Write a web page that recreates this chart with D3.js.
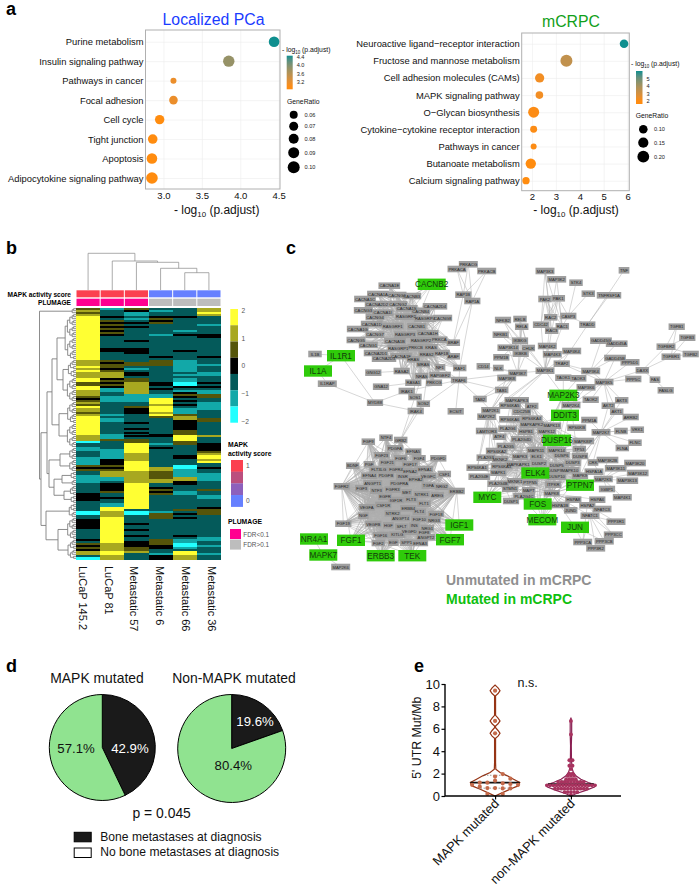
<!DOCTYPE html>
<html>
<head>
  <meta charset="utf-8">
  <script src="https://d3js.org/d3.v7.min.js"></script>
  <style>
    body { margin: 0; background: #fff; }
    svg text { font-family: "Liberation Sans", Arial, sans-serif; }
    .domain { display: none; }
  </style>
</head>
<body>
  <svg id="fig" width="700" height="887"></svg>
  <script>
    // panel a
    const pcaPathways = ["Purine metabolism", "Insulin signaling pathway", "Pathways in cancer", "Focal adhesion", "Cell cycle", "Tight junction", "Apoptosis", "Adipocytokine signaling pathway"];
    const pcaLogP = [4.44, 3.85, 3.13, 3.13, 2.95, 2.86, 2.85, 2.85];
    const pcaRatio = [0.086, 0.094, 0.04, 0.066, 0.074, 0.076, 0.086, 0.096];
    const pcaColorTicks = [4.4, 4.0, 3.6, 3.2];
    const pcaSizeTicks = [0.06, 0.07, 0.08, 0.09, 0.10];

    const crpcPathways = ["Neuroactive ligand\u2212receptor interaction", "Fructose and mannose metabolism", "Cell adhesion molecules (CAMs)", "MAPK signaling pathway", "O\u2212Glycan biosynthesis", "Cytokine\u2212cytokine receptor interaction", "Pathways in cancer", "Butanoate metabolism", "Calcium signaling pathway"];
    const crpcLogP = [5.85, 3.44, 2.32, 2.31, 2.07, 2.07, 2.07, 1.95, 1.75];
    const crpcRatio = [0.10, 0.206, 0.12, 0.07, 0.175, 0.05, 0.02, 0.155, 0.06];
    const crpcColorTicks = [5, 4, 3, 2];
    const crpcSizeTicks = [0.10, 0.15, 0.20];

    // panel b, run lengths per sample, one unit = one gene row
    const samples = ["LuCaP 145.2", "LuCaP 81", "Metastatic 57", "Metastatic 6", "Metastatic 66", "Metastatic 36"];
    const heatRuns = [
      "O1 F1 O1 F1 Y22 F3 Y1 F1 Y1 F3 Y2 O2 Y2 F3 O1 B1 O1 F1 O1 Y1 F2 O1 F1 Y10 F3 C1 K2 T2 K3 T4 O1 B1 O1 K2 T4 K5 B4 K5 C2 K2 B3 B2 K5 B1 K1 O1 B1 O1 B1 F2 K1 C1",
      "T1 K3 B1 K1 O1 B1 O1 B1 O1 B1 O1 B1 K6 B2 K4 O1 B1 O2 B1 O1 F3 B1 O1 B1 O1 B1 T2 K2 T3 K6 T1 K1 T2 K6 T3 O1 K4 T5 B3 O1 B1 O1 F3 T2 K1 B4 O1 K2 B1 K2 T2 Y2 F3 Y13 F4 Y2 F2",
      "O1 B1 T2 K1 T1 K1 B1 K1 B1 K1 K5 B1 K3 B3 K4 O2 K1 T1 K1 B2 K1 O2 F6 T4 K2 O1 B3 K4 B1 K2 B1 K1 B1 K1 B1 K1 O2 Y5 F4 Y5 F6 Y13 K1 C2 K2 K2 B1 K2 B1 K2 B1 K2 B3 O2 F1 K3",
      "K1 T1 K1 K1 B1 O1 B1 O1 K5 T1 K10 B1 K1 O3 K8 B2 K1 B1 K1 K1 T2 Y3 F1 Y3 F1 Y1 O1 K8 B2 K3 T1 K1 B1 K1 K8 F2 O4 F2 K2 B1 O1 B1 O1 K8 T1 O3 K10 O3 B2 K2 T1 B2",
      "K4 B1 K6 T1 K1 B1 K7 B1 K4 T6 K1 T1 K1 T2 C2 B1 K1 T1 B1 O1 B1 K1 B1 K1 B1 K1 T3 O1 F2 B5 O3 Y3 O2 K5 B2 K3 C2 T4 F2 B2 K3 T2 K7 O1 K1 B1 K1 B1 K8 B1 K1 T2 C2 T1 K1 Y2 F2",
      "F2 Y1 F1 K4 T1 K4 B2 K9 B1 K3 T1 K3 T2 K3 B1 K1 B1 K1 T2 O2 K2 T4 K4 O2 K7 F1 K3 B4 O1 F1 Y2 F1 Y1 K2 B1 K2 T1 T3 K4 O1 K2 T2 K1 K3 B1 O3 K11 T2 K2 T1 K3 T1 K2"
    ];
    const heatLevels = { C: -2, T: -1.33, K: -0.67, B: 0, O: 0.67, F: 1.33, Y: 2 };
    const heatScaleColors = ["#ffff33", "#a8a820", "#55550a", "#000000", "#045a5a", "#12a8a8", "#22ffff"];
    const heatScaleTicks = [2, 1, 0, -1, -2];
    const mapkGroup = ["high", "high", "high", "low", "low", "low"];
    const plumageGroup = ["sig", "sig", "sig", "ns", "ns", "ns"];
    // [merge height, left, right]
    const colTree = [36.7, 0, [29, 1, [27.7, 2, [21.7, 3, [17.3, 4, 5]]]]];
    const rowTree = [36.5, 3, [35,
      [29, [24, [19, 23, [13, 9, 12]], [17, 11, 12]], [27, [16, 6, 6], [22, [14, 4, 3], [12, 5, 4]]]],
      [30, 7, [18, 11, 10]]]];
    const mapkLegendColors = ["#fb4050", "#bb4f7e", "#8d60bc", "#6680ff"];
    const mapkLegendTicks = [1, 0];
    const plumageLabels = ["FDR<0.1", "FDR>0.1"];

    // panel c, layout: [name, x, y]
    const mutatedNodes = [["CACNB2",431.7,284.3],["IL1R1",341,355.7],["IL1A",318,371],["MAP2K3",563.3,395.3],["DDIT3",565,415.3],["DUSP16",557,440.3],["ELK4",535.3,473],["PTPN7",580,485.2],["MYC",487.3,497.3],["FOS",537.7,504],["MECOM",542.3,519.7],["JUN",575,527.3],["IGF1",459.3,525],["FGF7",450,539.7],["FGF1",351,540.3],["ERBB3",380.7,555.7],["TEK",412.3,555.7],["MAPK7",323.3,555],["NR4A1",314,539]];
    const calciumNodes = [["PRKACG",468.3,264.3],["PRKACA",457,269],["PRKACB",486.7,271],["RAP1B",463.3,294.7],["RAP1A",472.3,301],["CACNA1E",389.3,285.7],["CACNA1A",378,294],["CACNG6",397,295],["CACNB3",411.7,296],["CACNA1C",365,299],["CACNA2D2",377,304],["CACNG2",398,304],["CACNA2D4",435,306.3],["CACNG3",363.3,310.3],["CACNA1S",406.7,308.3],["CACNA1I",382.7,312.7],["CACNB4",420.7,311],["CACNG4",375,317],["RASGRF2",406,316.7],["RASGRP4",425,318.7],["CACNG8",442.7,318],["CACNA1D",371.7,324],["RASGRF1",392.7,326],["CACNB1",416.7,326.3],["CACNA1G",357.7,329],["CACNA1H",427.7,333.3],["CACNG7",375,334.7],["RASGRP3",405,334.7],["CACNG5",356,340],["CACNA1B",395,341],["RASGRP2",421,340.3],["PRKCA",439.3,339.7],["BRAF",453.3,342.7],["CACNG1",368.3,345],["RASGRP1",398.3,348.3],["PRKCB",415.7,347.3],["KRAS",431,347.3],["CACNA2D1",376,353],["RAF1B",441.7,353],["RRAS2",426.7,354],["ARAF",453.3,356.3],["CACNA2D3",384,358.7],["CACNA1F",401,356],["HRAS",413.3,359.3],["MRAS",423.3,364],["NF1",440,367.3],["RAF1",459.7,368],["GNG12",373.3,372.7],["RASA2",401.7,371],["NRAS",421.7,376],["RAPGEF2",440,375],["RASA1",413.3,382.7],["PRKCG",434,382.7],["TRAF6",459,380],["GNA12",381,386.7],["IRAK1",406.7,391],["SOS1",415,397],["SOS2",423.3,403.7],["MYD88",375,402.7],["IL1B",315,354],["IL1RAP",327.3,383.7],["IRAK4",415.7,411],["ECSIT",455.7,411.3]];
    const growthNodes = [["NTF4",386,437.7],["GRB2",400.7,440],["FGF9",368.3,441.7],["PDGFA",395,448.3],["EFNA5",413.3,451.7],["FGF23",381.7,455.3],["FGF6",400.7,458.3],["FGF4",419,458.3],["PDGFD",438.3,458.3],["FGF21",387.3,462.7],["FGF17",410,464.3],["PGF",369,464.3],["BDNF",352.7,465.7],["FLT3LG",378.7,469.7],["FGFR4",396,469.7],["EFNA1",425,469],["EFNA2",410,471.3],["CSF1",444.3,474],["EFNA4",369.3,475.7],["PDGFB",386,475],["INSR",402.7,476.7],["VEGFC",428.3,476],["ANGPT1",372.7,483.3],["EPHA2",415.7,479],["PDGFRA",399.3,483.3],["TGFA",428.3,485.7],["NRG2",441.7,486.7],["FGFR2",341.7,486.3],["ERBB2",456.7,491],["FGF3",361.7,488.3],["NTF3",376.7,490.7],["FGFR3",392.7,489.7],["MET",406.7,492.3],["NTRK1",421.7,494.3],["AREG",437.3,495],["EGFR",385,496.7],["IGF1R",396,500],["FLT3",411,499.3],["FLT1",424,503.7],["VEGFA",366.7,507.3],["CSF1R",383.3,505],["ERBB4",408.3,508.3],["FLT4",419.3,511.7],["FGF18",436,514],["NTRK2",392.7,513.3],["NGF",363.3,515.7],["ANGPT4",400.7,518],["FGF10",419.3,519],["NRG3",434,520],["FGF19",343.3,523.7],["VEGFB",373.3,524],["HGF",388.3,525.3],["SFLT",401.7,526.7],["INS",414.3,525.7],["NRG1",427.3,528],["VEGFD",409.3,531.7],["FGF8",424,532],["FGF16",380.7,535],["KITLG",397.3,534.7],["ANGPT2",426,537],["FGF2",378.3,543],["EGF",393.3,542.7],["SPP1",406.7,542.7],["EFNA3",420,543]];
    const mapkNodes = [["MAP2K6",340.7,567],["MAP3K3",545,271],["MAP3K2",556.7,279.3],["STK4",576,282.7],["TNF",624,270.3],["STK3",588.3,293.7],["TNFRSF1A",609,295.3],["PAK1",558.3,298.3],["PAK2",545,299],["RAC2",550.7,317.3],["CASP3",568.3,316],["RAC1",562.3,326.3],["TRADD",587.3,324.7],["CDC42",541,324.7],["RAC3",551.7,330.7],["TGFB1",676.7,326.7],["TGFB3",687.3,337.7],["TGFBR2",666,346.7],["TGFBR1",671,356.7],["TGFB2",690.7,354],["GADD45G",601,340.7],["GADD45A",616.7,343.7],["GADD45B",615,358],["PPP5D1",630,362.3],["MAP3K4",590.7,371],["DAXX",642.3,370.3],["PPP5C",633.3,379],["FAS",655,379.7],["FASLG",665.7,390.3],["MAP3K5",604,382],["MAP3K6",586,387.3],["TAOK2",590.7,399.7],["AKT3",621.7,400.3],["AKT2",608.3,405.7],["MAP2K4",571,405],["AKT1",616.7,411.7],["ARRB2",630.7,417],["NFKB2",503,320],["RELB",520,319],["RELA",521.7,326.7],["NFKB1",500.7,334.7],["IKBKG",520,340.7],["MAP4K2",547.3,346],["MAP3K14",508.3,347.7],["CHUK",528.3,348],["IKBKB",520.7,353.7],["MAP4K3",552.3,354.3],["MAP4K4",571.7,351],["PPM1B",501.3,357.3],["TRAF2",561.7,363.7],["CD14",483.3,366.3],["NLK",498.3,368],["MAP3K1",545,370.7],["MAP3K7",517.7,373],["MAP3K8",506.7,378],["TAOK1",563.3,377.7],["TAOK3",578.3,378.3],["TAB1",501.7,390],["TAB2",480,399],["MAPKAPK3",516.7,400.3],["ATF2",531.7,406],["RPS6KA5",510,405.7],["MAP2K1",490.7,410.3],["CDC25B",521.7,411.7],["MAP2K2",486.7,416.7],["RPS6KA6",510,419.3],["RPS6KA4",531.7,418.7],["PPM1A",589.3,420],["MAPKAPK2",531.7,424.7],["MAPK13",551.7,425.7],["LAMTOR3",486.7,431],["PLA2G6",507.7,428.7],["HSPB1",526,431.7],["MAPK12",546.7,431],["RPS6KB",576.7,427.7],["ATF4",499.3,436.7],["PLA2G4D",521.7,439.3],["PLA2G5",506,446],["MAPK11",536,450],["MAPK14",556.7,450],["TP53",579.3,449],["RPS6KA2",496.7,451],["PLA2G3",486,457.7],["MKNK2",500,459],["MAPK3",520,456.7],["ELK1",536.7,456.7],["DUSP6",561.7,455],["DUSP8",580,456],["RPS6KA1",477.3,467.7],["RPS6KA3",501.7,466],["MAPKAPK1",518.3,464],["DUSP2",539,463.3],["DUSP5",556.7,465.7],["DUSP3",572.7,462.7],["PLA2G4E",479.3,476.7],["MAPK1",498.3,472.7],["DUSP9",555,470.7],["MAPK10",570,470],["DUSP10",556.7,476.7],["MAPK9",580,475.7],["PLA2G4B",498.3,483.7],["MKNK1",515,481.3],["PTPN5",530,482.3],["ITPKR",553.3,484.7],["STMN1",510,488.7],["MAPT",528.7,490.3],["MAPK8",551.7,493.3],["PLA2G4C",524,496],["DUSP1",511,501],["MAP2K7",601,432.3],["FLNB",621,431],["VRK1",637.3,429.7],["FLNC",635,442.7],["FLNA",622.3,448],["MAPK8IP",583.3,441],["CRK",593,462.5],["MAP3K2B",607.5,460],["MAP3K20",635,463],["MAP3K11",615.7,468.3],["MAP3K12",637.7,473],["HSPA1A",594,471.7],["MAP2K5",603.3,479],["MAP3K13",627.3,480.7],["MAP4K1",622.3,497.3],["IGBP1",607,489],["HSPA8",573.3,499.7],["HSPA6",597.3,499.7],["HSPA1B",560,505],["HSPA2",587.3,505.3],["NFATC3",602,509],["JUND",570.7,510.3],["NFATC1",590,515.7],["PPP3R1",616,521.7],["PPP3CC",613.3,534.7],["PPP3CB",604.3,541.3],["PPP3CA",582.7,542],["PPP3R2",595.7,548.3]];
    // [hub, neighbours]
    const edgeStars = [
      ["RAP1B", ["PRKACG","PRKACA","PRKACB","BRAF"]], ["RAP1A", ["PRKACG","PRKACA","PRKACB","BRAF","RAF1"]],
      ["CACNB2", ["CACNB3","CACNB4","RASGRF2","CACNA1S","CACNG2"]],
      ["MYD88", ["IL1R1","IL1RAP","IRAK1","IRAK4"]], ["IL1A", ["IL1R1","IL1RAP"]], ["IL1R1", ["IL1B"]],
      ["RASA2", ["GNG12","NRAS","HRAS"]], ["RASA1", ["GNA12","NRAS"]],
      ["TRAF6", ["IRAK1","IRAK4","ECSIT","TAB1","TAB2","RAF1","MAP3K7","NF1"]],
      ["GRB2", ["SOS1","SOS2","IRAK4"]], ["SOS1", ["NRAS","HRAS"]], ["SOS2", ["KRAS"]],
      ["RAC2", ["MAP3K3","MAP3K2","PAK1","PAK2","CASP3","MAP3K1"]], ["RAC1", ["MAP3K3","MAP3K2","PAK1","PAK2","CASP3","MAP3K1"]],
      ["RAC3", ["PAK1","PAK2","MAP3K3","MAP3K1"]], ["CDC42", ["PAK1","PAK2","MAP3K3","MAP3K1"]],
      ["CASP3", ["STK4","STK3","TRADD","PAK1"]], ["TRADD", ["TNFRSF1A"]], ["TRAF2", ["TNF","MAP3K1","MAP3K5"]],
      ["TGFBR2", ["TGFB1","TGFB2","TGFB3","DAXX"]], ["TGFBR1", ["TGFB1","TGFB2","TGFB3","DAXX"]],
      ["DAXX", ["FAS","MAP3K5"]], ["FAS", ["FASLG"]],
      ["MAP3K4", ["GADD45G","GADD45A","GADD45B","MAP3K5","TRAF2"]],
      ["MAP3K5", ["PPP5C","PPP5D1","GADD45B","MAP3K6","TAOK2","AKT1","AKT2","AKT3","MAP2K4","MAP2K3"]],
      ["MAP3K1", ["MAP4K2","MAP4K3","MAP4K4","IKBKB","CHUK","IKBKG","MAP2K1","MAP2K2","MAP2K3","MAP3K7","RPS6KA5"]],
      ["MAP3K7", ["NLK","TAB1","TAB2","CD14","IKBKB","CHUK","IKBKG","MAP3K14","MAP2K1","MAP2K2","MAP3K8"]],
      ["IKBKB", ["NFKB1","NFKB2","RELA","RELB","PPM1B","MAP3K14"]], ["CHUK", ["NFKB1","NFKB2","RELA","RELB"]], ["IKBKG", ["NFKB1","NFKB2","RELA","RELB","PPM1B"]],
      ["TAB1", ["MAP2K1","TAB2","MAP3K8"]], ["MAP2K3", ["TAOK1","TAOK3","MAPK14","MAPK11","MAPK12","MAPK13"]],
      ["MAP2K4", ["TAOK2","MAP3K6","MAPK8","MAPK9","MAP2K3"]], ["DDIT3", ["MAPK14","ATF4"]],
      ["MAP2K7", ["AKT1","AKT2","AKT3","ARRB2","PPM1A","FLNB","VRK1","FLNC","FLNA","MAPK8","MAPK9","MAPK10","CRK"]],
      ["MAP2K5", ["MAP3K2B","MAP3K20","MAP3K11","MAP3K12","MAP3K13","MAP4K1","IGBP1","CRK"]],
      ["MAPK8", ["JUN","JUND","HSPA1A","HSPA8","HSPA6","HSPA1B","HSPA2","NFATC3","NFATC1","MAP2K5","FOS"]],
      ["NFATC1", ["PPP3R1","PPP3CC","PPP3CB","PPP3CA","PPP3R2"]], ["JUN", ["PPP3CA","PPP3CB"]], ["HSPA2", ["PPP3CC","PPP3R1","PPP3CA"]],
      ["MAP2K1", ["MAPK1","MAPK3","MYC","RPS6KA1","TAB2","LAMTOR3","ATF4"]], ["MAP2K2", ["MAPK1","MAPK3","LAMTOR3","RPS6KA1"]],
      ["NR4A1", ["MAPK7"]], ["MAP2K6", ["MAPK7"]], ["MAPK1", ["MYC","PLA2G4E","RPS6KA1","PLA2G3","PLA2G4C","PLA2G4B"]], ["MAPK3", ["MYC","PLA2G5","PLA2G4D","PLA2G6"]]
    ];
    const calciumHubs = ["RASGRF2", "RASGRP4", "RASGRF1", "RASGRP3", "RASGRP2", "RASGRP1", "KRAS", "HRAS", "CACNB1", "CACNA1B", "CACNA1S", "PRKCB"];
    const rasMembers = ["KRAS","HRAS","NRAS","MRAS","RRAS2","RAF1","RAF1B","BRAF","ARAF","NF1","RAPGEF2","PRKCA","PRKCB","PRKCG","RASA1","RASA2"];
    const growthHubs = ["FGFR2", "FGFR3", "FGFR4", "ERBB2", "ERBB4", "INSR", "MET", "FLT1", "FLT4", "NTRK1", "PDGFRA", "EGFR", "IGF1R", "CSF1R", "NTRK2", "FLT3", "VEGFA", "FGF10", "HGF", "ANGPT4", "KITLG", "EGF", "FGF2", "NGF"];
    const growthMutated = ["IGF1", "FGF7", "FGF1", "ERBB3", "TEK"];
    const mapkHubs = ["MAPK1", "MAPK3", "MAPK8", "MAPK9", "MAPK14", "MAPK10", "MAPK11", "MAPK13"];
    const mapkHubMembers = ["DUSP16","ELK4","PTPN7","FOS","MECOM","ELK1","DUSP2","DUSP3","DUSP5","DUSP6","DUSP8","DUSP9","DUSP10","DUSP1","RPS6KA1","RPS6KA2","RPS6KA3","RPS6KA4","RPS6KA5","RPS6KA6","MKNK1","MKNK2","PTPN5","ITPKR","STMN1","MAPT","MAPKAPK1","MAPKAPK2","MAPKAPK3","TP53","MAPK12","HSPB1","CDC25B","ATF2","PLA2G4D","PLA2G5","PLA2G6","MAPK8IP","MYC"];
    const networkLegend = ["Unmutated in mCRPC", "Mutated in mCRPC"];

    // panel d
    const pieCategories = ["Bone metastases at diagnosis", "No bone metastases at diagnosis"];
    const pieMapk = [42.9, 57.1];
    const pieNonMapk = [19.6, 80.4];

    // panel e
    const violinMapkY = [0, 0.3, 0.6, 0.9, 1.2, 1.5, 1.8, 2.1, 2.4, 3, 4, 5, 5.15, 5.35, 5.6, 5.85, 6.1, 6.25, 6.45, 6.7, 6.95, 7.2, 8, 8.95, 9.15, 9.4, 9.65, 9.9];
    const violinMapkDensity = [0, 0.3, 0.6, 0.93, 1, 0.75, 0.5, 0.2, 0.03, 0.02, 0.02, 0.02, 0.02, 0.12, 0.2, 0.12, 0.02, 0.02, 0.12, 0.2, 0.12, 0.02, 0.02, 0.02, 0.12, 0.2, 0.12, 0];
    const violinOtherY = [0, 0.2, 0.5, 0.8, 1, 1.2, 1.5, 1.8, 2.1, 2.5, 3, 3.5, 4.5, 5.5, 6.7, 7];
    const violinOtherDensity = [0, 0.2, 0.6, 0.95, 1, 0.7, 0.4, 0.2, 0.1, 0.04, 0.03, 0.02, 0.015, 0.03, 0.03, 0];
    // [swarm slot, value]
    const mapkPoints = [[1,1.96],[0,1.73],[0,1.37],[-1,1.19],[-2,1.19],[2,1.55],[1,1.13],[2,1.07],[3,1],[-3,1],[-2,0.83],[0,0.71],[-1,0.71],[1,0.68],[2,0.68],[-1,0.18],[1,0.18],[0,5.6],[0,6.7],[0,9.4]];
    // [value, patients]
    const otherPoints = [[0.1,1],[0.35,5],[0.65,11],[0.95,16],[1.25,9],[1.5,4],[1.8,3],[2,2],[2.4,1],[2.7,2],[3.2,2],[5.5,1],[6.7,1]];
    const groups = ["MAPK mutated", "non-MAPK mutated"];
    const mapkStats = [0.7, 1.2, 1.85];
    const otherStats = [0.65, 1.05, 1.4];

    const svg = d3.select("#fig");

    function panelLetter(t, x, y) {
      svg.append("text").text(t).attr("x", x).attr("y", y)
        .style("font-size", "18px").style("font-weight", "bold").style("fill", "#000");
    }
    panelLetter("a", 6, 15);
    panelLetter("b", 6, 254);
    panelLetter("c", 286, 254);
    panelLetter("d", 6, 672);
    panelLetter("e", 414, 672);

    function logLabel(g, x, y, size, anchor) {
      const t = g.append("text").attr("x", x).attr("y", y).attr("text-anchor", anchor)
        .style("font-size", size + "px").style("fill", "#111");
      t.append("tspan").text("- log");
      t.append("tspan").text("10").attr("dy", size * 0.28).style("font-size", (size * 0.66) + "px");
      t.append("tspan").text(" (p.adjust)").attr("dy", -size * 0.28);
    }

    let gradId = 0;
    function dotPlot(o) {
      const g = svg.append("g");
      const x = d3.scaleLinear().domain(o.xDomain).range(o.xRange);
      const y = d3.scalePoint().domain(o.names).range(o.yRange);
      const r = d3.scaleLinear().domain(o.rDomain).range(o.rRange);
      const color = d3.scaleLinear().domain(o.colorDomain).range(["#ff8c0f", "#0f8f8f"])
        .interpolate(d3.interpolateLab).clamp(true);
      const top = o.top, bottom = o.bottom;

      g.append("g").attr("transform", "translate(0," + bottom + ")")
        .call(d3.axisBottom(x).ticks(o.xTicks).tickSize(-(bottom - top)).tickFormat(""))
        .call(s => s.selectAll("line").attr("stroke", "#ececec").attr("stroke-width", 0.6));
      g.append("g").attr("transform", "translate(" + o.xRange[0] + ",0)")
        .call(d3.axisLeft(y).tickSize(-(o.xRange[1] - o.xRange[0])).tickFormat(""))
        .call(s => s.selectAll("line").attr("stroke", "#ececec").attr("stroke-width", 0.6));
      g.append("rect").attr("x", o.xRange[0]).attr("y", top)
        .attr("width", o.xRange[1] - o.xRange[0]).attr("height", bottom - top)
        .attr("fill", "none").attr("stroke", "#b0b0b0").attr("stroke-width", 1);

      g.append("g").attr("transform", "translate(0," + bottom + ")")
        .call(d3.axisBottom(x).ticks(o.xTicks).tickSize(0).tickPadding(3).tickFormat(o.fmt))
        .call(s => s.selectAll("text").style("font-size", "9.5px").style("fill", "#111"));
      g.append("g").attr("transform", "translate(" + o.xRange[0] + ",0)")
        .call(d3.axisLeft(y).tickSize(0).tickPadding(2))
        .call(s => s.selectAll("text").style("font-size", "9.4px").style("fill", "#111"));

      g.selectAll("circle.dot").data(o.names).join("circle").attr("class", "dot")
        .attr("cx", (d, i) => x(o.logP[i]))
        .attr("cy", d => y(d))
        .attr("r", (d, i) => r(o.ratio[i]))
        .attr("fill", (d, i) => color(o.logP[i]));

      g.append("text").text(o.title).attr("x", o.titleX).attr("y", o.titleY).attr("text-anchor", "middle")
        .style("font-size", "15.8px").style("fill", o.titleColor);
      logLabel(g, o.axisTitleX, 214, 12, "middle");

      // colour legend
      logLabel(g, o.legendX, o.legendTitleY, 6.8, "start");
      const barY = d3.scaleLinear().domain(o.barTickDomain).range(o.barTickRange);
      const id = "grad" + (gradId++);
      const grad = svg.append("defs").append("linearGradient").attr("id", id)
        .attr("x1", 0).attr("x2", 0).attr("y1", 1).attr("y2", 0);
      d3.range(0, 1.01, 0.1).forEach(t => {
        const v = barY.invert(o.barExtent[0] + t * (o.barExtent[1] - o.barExtent[0]));
        grad.append("stop").attr("offset", t).attr("stop-color", color(v));
      });
      g.append("rect").attr("x", o.barX).attr("width", o.barW)
        .attr("y", o.barExtent[1]).attr("height", o.barExtent[0] - o.barExtent[1]).attr("fill", "url(#" + id + ")");
      g.selectAll("text.ctick").data(o.colorTicks).join("text").attr("class", "ctick")
        .text(o.fmtLegend).attr("x", o.barX + o.barW + 4).attr("y", d => barY(d) + 2)
        .style("font-size", "5.6px").style("fill", "#222");

      // size legend
      g.append("text").text("GeneRatio").attr("x", o.sizeTitleX).attr("y", o.sizeTitleY)
        .style("font-size", "6.8px").style("fill", "#111");
      g.selectAll("circle.size").data(o.sizeTicks).join("circle").attr("class", "size")
        .attr("cx", o.sizeCx).attr("cy", (d, i) => o.sizeCy[i]).attr("r", d => r(d)).attr("fill", "#000");
      g.selectAll("text.stick").data(o.sizeTicks).join("text").attr("class", "stick")
        .text(d3.format(".2f")).attr("x", o.sizeLabelX).attr("y", (d, i) => o.sizeCy[i] + 2)
        .style("font-size", "5.6px").style("fill", "#222");
    }

    dotPlot({
      names: pcaPathways, logP: pcaLogP, ratio: pcaRatio, title: "Localized PCa", titleX: 213.5, titleY: 25, titleColor: "#1a3cff",
      xDomain: [2.766, 4.517], xRange: [145.5, 280], yRange: [41.7, 178], top: 30, bottom: 189, xTicks: 4, fmt: d3.format(".1f"),
      rDomain: [0.04, 0.10], rRange: [3, 6], colorDomain: [2.95, 4.44], axisTitleX: 216.7,
      legendX: 282, legendTitleY: 52, barX: 286.7, barW: 6, barTickDomain: [3.2, 4.4], barTickRange: [81.7, 57.3], barExtent: [89.3, 55.7],
      colorTicks: pcaColorTicks, fmtLegend: d3.format(".1f"), sizeTitleX: 287, sizeTitleY: 104, sizeTicks: pcaSizeTicks,
      sizeCx: 293.7, sizeCy: [114.7, 126.3, 138.7, 152.7, 167.3], sizeLabelX: 304.5
    });
    dotPlot({
      names: crpcPathways, logP: crpcLogP, ratio: crpcRatio, title: "mCRPC", titleX: 571, titleY: 27, titleColor: "#11a01a",
      xDomain: [1.57, 6.07], xRange: [521.7, 629.3], yRange: [43.7, 180.7], top: 33, bottom: 190.7, xTicks: 5, fmt: d3.format("d"),
      rDomain: [0.02, 0.206], rRange: [3, 6], colorDomain: [2.0, 5.85], axisTitleX: 576,
      legendX: 631, legendTitleY: 65.7, barX: 636, barW: 6.5, barTickDomain: [2, 5], barTickRange: [101.3, 78.7], barExtent: [104, 71],
      colorTicks: crpcColorTicks, fmtLegend: d3.format("d"), sizeTitleX: 635.7, sizeTitleY: 118, sizeTicks: crpcSizeTicks,
      sizeCx: 643.3, sizeCy: [129.3, 142.7, 156.7], sizeLabelX: 654
    });

    // heatmap
    const heatG = svg.append("g");
    const heatMatrix = heatRuns.map(s => s.split(" ").flatMap(run =>
      d3.range(+run.slice(1)).map(() => heatLevels[run[0]])));
    const nRows = 126;
    const colX = d3.scaleBand().domain(samples).range([76, 221]);
    const rowY = d3.scaleBand().domain(d3.range(nRows)).range([307.7, 559.3]);
    const heatColor = d3.scaleOrdinal().domain([2, 1.33, 0.67, 0, -0.67, -1.33, -2]).range(heatScaleColors);

    samples.forEach((s, c) => {
      heatG.selectAll("rect.c" + c).data(heatMatrix[c].slice(0, nRows)).join("rect").attr("class", "c" + c)
        .attr("x", colX(s)).attr("width", colX.bandwidth() + 0.3)
        .attr("y", (d, i) => rowY(i)).attr("height", rowY.bandwidth() + 0.5)
        .attr("fill", d => heatColor(d))
        .attr("shape-rendering", "crispEdges");
    });
    const mapkColor = d3.scaleOrdinal().domain(["high", "low"]).range(["#fb4050", "#6680ff"]);
    const plumageColor = d3.scaleOrdinal().domain(["sig", "ns"]).range(["#ff0090", "#bdbdbd"]);
    heatG.selectAll("rect.mapk").data(mapkGroup).join("rect").attr("class", "mapk")
      .attr("x", (d, i) => colX(samples[i]) + 0.5).attr("width", colX.bandwidth() - 1)
      .attr("y", 290.3).attr("height", 7).attr("fill", d => mapkColor(d));
    heatG.selectAll("rect.plum").data(plumageGroup).join("rect").attr("class", "plum")
      .attr("x", (d, i) => colX(samples[i]) + 0.5).attr("width", colX.bandwidth() - 1)
      .attr("y", 298.7).attr("height", 7.3).attr("fill", d => plumageColor(d));
    heatG.append("text").text("MAPK activity score").attr("x", 71).attr("y", 297).attr("text-anchor", "end")
      .style("font-size", "6.6px").style("font-weight", "bold");
    heatG.append("text").text("PLUMAGE").attr("x", 71).attr("y", 305).attr("text-anchor", "end")
      .style("font-size", "6.6px").style("font-weight", "bold");

    // dendrograms, pt maps (leaf position, merge height) to screen
    function drawTree(root, leafPos, expandLeaves, pt, stroke, width) {
      let nextRow = 0;
      const segs = [];
      function walk(n) {
        if (Array.isArray(n)) {
          const a = walk(n[1]), b = walk(n[2]);
          segs.push([a.h, a.pos, n[0], b.pos, b.h]);
          return { pos: (a.pos + b.pos) / 2, h: n[0] };
        }
        if (!expandLeaves) return { pos: leafPos(n), h: 0 };
        if (n === 1) return { pos: leafPos(nextRow++), h: 0 };
        const half = Math.ceil(n / 2);
        return walk([2.4 * Math.log2(n), half, n - half]);
      }
      walk(root);
      heatG.append("g").selectAll("path").data(segs).join("path")
        .attr("d", s => d3.line()([pt(s[1], s[0]), pt(s[1], s[2]), pt(s[3], s[2]), pt(s[3], s[4])]))
        .attr("fill", "none").attr("stroke", stroke).attr("stroke-width", width);
    }
    const colH = d3.scaleLinear().domain([0, 37]).range([290, 253]);
    const rowH = d3.scaleLinear().domain([0, 37]).range([76, 39]);
    drawTree(colTree, i => colX(samples[i]) + colX.bandwidth() / 2, false, (p, h) => [p, colH(h)], "#888", 0.7);
    drawTree(rowTree, i => rowY(i) + rowY.bandwidth() / 2, true, (p, h) => [rowH(h), p], "#808080", 0.9);

    const sampleLabelX = d3.scalePoint().domain(samples).range([82.7, 212]);
    heatG.selectAll("text.sample").data(samples).join("text").attr("class", "sample")
      .text(d => d)
      .attr("transform", d => "translate(" + (sampleLabelX(d) - 4) + ",566) rotate(90)")
      .style("font-size", "11px").style("fill", "#111");

    // heat colour key
    const keyBand = d3.scaleBand().domain(heatScaleColors).range([309, 422.7]);
    heatG.selectAll("rect.key").data(heatScaleColors).join("rect").attr("class", "key")
      .attr("x", 230.3).attr("width", 7.7).attr("y", d => keyBand(d)).attr("height", keyBand.bandwidth())
      .attr("fill", d => d);
    const keyY = d3.scaleLinear().domain([2, -2]).range([310.7, 421.6]);
    heatG.selectAll("text.keyt").data(heatScaleTicks).join("text").attr("class", "keyt")
      .text(d => d < 0 ? "\u2212" + (-d) : d)
      .attr("x", 241.5).attr("y", d => keyY(d) + 2.3)
      .style("font-size", "6.6px").style("fill", "#555");

    heatG.append("text").text("MAPK").attr("x", 228).attr("y", 447)
      .style("font-size", "6.8px").style("font-weight", "bold");
    heatG.append("text").text("activity score").attr("x", 228).attr("y", 456)
      .style("font-size", "6.8px").style("font-weight", "bold");
    const mapkBand = d3.scaleBand().domain(mapkLegendColors).range([460, 506.7]);
    heatG.selectAll("rect.mkey").data(mapkLegendColors).join("rect").attr("class", "mkey")
      .attr("x", 231).attr("width", 12).attr("y", d => mapkBand(d)).attr("height", mapkBand.bandwidth() + 0.2)
      .attr("fill", d => d);
    const mapkKeyY = d3.scaleLinear().domain([1, 0]).range([466, 501]);
    heatG.selectAll("text.mkeyt").data(mapkLegendTicks).join("text").attr("class", "mkeyt")
      .text(d => d).attr("x", 246).attr("y", d => mapkKeyY(d) + 2.3)
      .style("font-size", "6.6px").style("fill", "#555");
    heatG.append("text").text("PLUMAGE").attr("x", 228).attr("y", 524)
      .style("font-size", "6.8px").style("font-weight", "bold");
    const plumageBand = d3.scaleBand().domain(plumageLabels).range([529, 549.6]).paddingInner(0.05);
    heatG.selectAll("rect.pkey").data(plumageLabels).join("rect").attr("class", "pkey")
      .attr("x", 230).attr("width", 11).attr("y", d => plumageBand(d)).attr("height", plumageBand.bandwidth())
      .attr("fill", (d, i) => plumageColor(i ? "ns" : "sig"));
    heatG.selectAll("text.pkeyt").data(plumageLabels).join("text").attr("class", "pkeyt")
      .text(d => d).attr("x", 243.3).attr("y", d => plumageBand(d) + 7.5)
      .style("font-size", "6.4px").style("fill", "#555");

    // network
    const netG = svg.append("g");
    const netX = d3.scaleLinear().domain([300, 700]).range([300, 700]);
    const netY = d3.scaleLinear().domain([260, 570]).range([260, 570]);
    const greyNodes = [...calciumNodes, ...growthNodes, ...mapkNodes];
    const nodePos = new Map([...greyNodes, ...mutatedNodes].map(n => [n[0], n]));
    const edges = [];
    edgeStars.forEach(s => s[1].forEach(t => edges.push([s[0], t])));
    const calciumMembers = calciumNodes.map(n => n[0]).filter(n => n.startsWith("CACN"));
    calciumHubs.forEach(h => [...calciumMembers, ...rasMembers].forEach(t => { if (h !== t) edges.push([h, t]); }));
    const growthMembers = [...growthNodes.map(n => n[0]), ...growthMutated];
    growthHubs.forEach(h => growthMembers.forEach(t => { if (h !== t) edges.push([h, t]); }));
    mapkHubs.forEach(h => mapkHubMembers.forEach(t => { if (h !== t) edges.push([h, t]); }));

    netG.append("g").selectAll("line").data(edges).join("line")
      .attr("x1", d => netX(nodePos.get(d[0])[1])).attr("y1", d => netY(nodePos.get(d[0])[2]))
      .attr("x2", d => netX(nodePos.get(d[1])[1])).attr("y2", d => netY(nodePos.get(d[1])[2]))
      .attr("stroke", "#aeaeae").attr("stroke-width", 0.5);

    const greyW = d => d[0].length * 2.75 + 2.5;
    netG.append("g").selectAll("rect").data(greyNodes).join("rect")
      .attr("x", d => netX(d[1]) - greyW(d) / 2).attr("y", d => netY(d[2]) - 3.3)
      .attr("width", greyW).attr("height", 6.6).attr("fill", "#9f9f9f");
    netG.append("g").selectAll("text").data(greyNodes).join("text")
      .text(d => d[0]).attr("x", d => netX(d[1])).attr("y", d => netY(d[2]) + 1.5)
      .attr("text-anchor", "middle").style("font-size", "4.2px").style("fill", "#262626");
    netG.append("g").selectAll("rect").data(mutatedNodes).join("rect")
      .attr("x", d => netX(d[1]) - 14).attr("y", d => netY(d[2]) - 5.7)
      .attr("width", 28).attr("height", 11.4).attr("fill", "#2fcb0a");
    netG.append("g").selectAll("text").data(mutatedNodes).join("text")
      .text(d => d[0]).attr("x", d => netX(d[1])).attr("y", d => netY(d[2]) + 2.9)
      .attr("text-anchor", "middle").style("font-size", "8.2px").style("fill", "#123d0a");
    netG.selectAll("text.nlegend").data(networkLegend).join("text").attr("class", "nlegend")
      .text(d => d).attr("x", 446).attr("y", (d, i) => i ? 604.3 : 585)
      .style("font-size", "14px").style("font-weight", "bold")
      .style("fill", (d, i) => i ? "#0fc00f" : "#8f8f8f");

    // pies
    const pieG = svg.append("g");
    const pieGen = d3.pie().sort(null);
    const pieColor = d3.scaleOrdinal().domain(pieCategories).range(["#1a1a1a", "#90e390"]);
    function drawPie(values, cx, cy, r, title, titleX, titleY, labelPos) {
      const g = pieG.append("g").attr("transform", "translate(" + cx + "," + cy + ")");
      const arc = d3.arc().innerRadius(0).outerRadius(r);
      g.selectAll("path").data(pieGen(values)).join("path")
        .attr("d", arc).attr("fill", (d, i) => pieColor(pieCategories[i]))
        .attr("stroke", "#000").attr("stroke-width", 1);
      g.selectAll("text").data(values).join("text")
        .text(d => d + "%")
        .attr("x", (d, i) => labelPos[i][0]).attr("y", (d, i) => labelPos[i][1])
        .attr("text-anchor", "middle").style("font-size", "13.2px")
        .style("fill", (d, i) => i ? "#111" : "#fff");
      pieG.append("text").text(title).attr("x", titleX).attr("y", titleY).attr("text-anchor", "middle")
        .style("font-size", "13.9px").style("fill", "#111");
    }
    drawPie(pieMapk, 102.3, 747.5, 53, "MAPK mutated", 97, 683.3, [[27.7, 5.2], [-26.3, 5.2]]);
    drawPie(pieNonMapk, 231.7, 748.5, 54, "Non-MAPK mutated", 234, 682.7, [[23.3, -22.5], [1.6, 21.5]]);
    pieG.append("text").text("p = 0.045").attr("x", 161.7).attr("y", 817.7).attr("text-anchor", "middle")
      .style("font-size", "13.9px").style("fill", "#111");
    pieG.selectAll("rect.key").data(pieCategories).join("rect").attr("class", "key")
      .attr("x", 74.2).attr("width", 17).attr("y", (d, i) => i ? 848 : 832.3).attr("height", 9.5)
      .attr("fill", (d, i) => i ? "#fff" : "#1a1a1a").attr("stroke", "#000").attr("stroke-width", 1);
    pieG.selectAll("text.key").data(pieCategories).join("text").attr("class", "key")
      .text(d => d).attr("x", 100.3).attr("y", (d, i) => i ? 856 : 841)
      .style("font-size", "12.1px").style("fill", "#111");

    // violins
    const vG = svg.append("g");
    const yE = d3.scaleLinear().domain([0, 10]).range([796, 684]);
    const xE = d3.scalePoint().domain(groups).range([445, 621]).padding(0.66);
    const halfW = d3.scaleLinear().domain([0, 1]).range([0, 24.7]);

    function drawViolin(group, ys, dens, stats, stroke) {
      const cx = xE(group);
      const rows = ys.map((v, i) => [v, dens[i]]);
      vG.append("path").datum(rows)
        .attr("d", d3.area().y(d => yE(d[0])).x0(d => cx - halfW(d[1])).x1(d => cx + halfW(d[1])))
        .attr("fill", "none").attr("stroke", stroke).attr("stroke-width", 1.2);
      const dAt = d3.scaleLinear().domain(ys).range(dens);
      vG.selectAll(null).data(stats).join("line")
        .attr("x1", d => cx - halfW(dAt(d))).attr("x2", d => cx + halfW(dAt(d)))
        .attr("y1", d => yE(d)).attr("y2", d => yE(d))
        .attr("stroke", (d, i) => i === 1 ? "#111" : "#555")
        .attr("stroke-width", (d, i) => i === 1 ? 1.8 : 0.6)
        .attr("stroke-dasharray", (d, i) => i === 1 ? null : "1.5,1.5");
    }
    drawViolin(groups[0], violinMapkY, violinMapkDensity, mapkStats, "#963415");
    drawViolin(groups[1], violinOtherY, violinOtherDensity, otherStats, "#8a1f52");

    const slotX = d3.scaleLinear().domain([-3, 3]).range([-23, 23]);
    vG.selectAll("circle.m").data(mapkPoints).join("circle").attr("class", "m")
      .attr("cx", d => xE(groups[0]) + slotX(d[0])).attr("cy", d => yE(d[1])).attr("r", 2.1).attr("fill", "#c46a4a");
    const otherSwarm = otherPoints.flatMap(p => d3.range(p[1]).map(i => [i - (p[1] - 1) / 2, p[0]]));
    vG.selectAll("circle.o").data(otherSwarm).join("circle").attr("class", "o")
      .attr("cx", d => xE(groups[1]) + d[0] * 3.2).attr("cy", d => yE(d[1])).attr("r", 1.9).attr("fill", "#a8335f");

    vG.append("g").attr("transform", "translate(445,0)")
      .call(d3.axisLeft(yE).tickValues([0, 2, 4, 6, 8, 10]).tickSize(3.5).tickPadding(1.5))
      .call(s => s.selectAll("text").style("font-size", "13px").style("fill", "#111"))
      .call(s => s.selectAll("line").attr("stroke", "#000").attr("stroke-width", 1.2));
    vG.append("line").attr("x1", 445).attr("x2", 445).attr("y1", 684).attr("y2", 796).attr("stroke", "#000").attr("stroke-width", 1.4);
    vG.append("line").attr("x1", 445).attr("x2", 621).attr("y1", 796).attr("y2", 796).attr("stroke", "#000").attr("stroke-width", 1.4);
    vG.append("g").attr("transform", "translate(0,796)")
      .call(d3.axisBottom(xE).tickSize(3.5))
      .call(s => s.selectAll("line").attr("stroke", "#000").attr("stroke-width", 1.2))
      .call(s => s.selectAll("text").attr("transform", "rotate(-45)").attr("text-anchor", "end")
        .attr("x", -3).attr("y", 9).attr("dy", 0).style("font-size", "13px").style("fill", "#111"));
    vG.append("text").text("5' UTR Mut/Mb").attr("transform", "translate(420.5,737.7) rotate(-90)")
      .attr("text-anchor", "middle").style("font-size", "12.3px").style("fill", "#111");
    vG.append("text").text("n.s.").attr("x", 527.7).attr("y", 686.7).attr("text-anchor", "middle")
      .style("font-size", "12.5px").style("fill", "#111");
  </script>
</body>
</html>
